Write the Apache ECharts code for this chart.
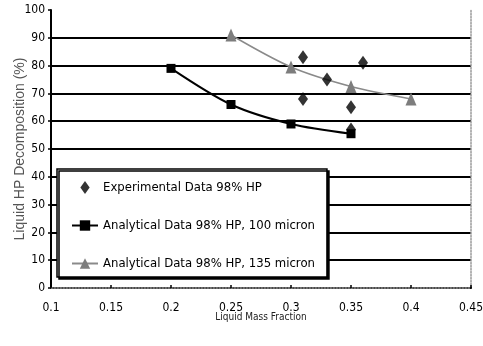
<!DOCTYPE html>
<html>
<head>
<meta charset="utf-8">
<script src="https://cdn.jsdelivr.net/npm/echarts@6/dist/echarts.min.js"></script>
<style>
  html, body { margin: 0; padding: 0; background: #fff; }
  #chart { width: 483px; height: 346px; }
</style>
</head>
<body>
<div id="chart"></div>
<script>
// Liquid HP decomposition vs. liquid mass fraction
const expX = [0.31, 0.31, 0.33, 0.35, 0.35, 0.36];
const expY = [83, 68, 75, 65, 57, 81];

const ana100X = [0.2, 0.25, 0.3, 0.35];
const ana100Y = [79, 66, 59, 55.5];

const ana135X = [0.25, 0.3, 0.35, 0.4];
const ana135Y = [91, 79.5, 72.5, 68];

const seriesNames = [
  'Experimental Data 98% HP',
  'Analytical Data 98% HP, 100 micron',
  'Analytical Data 98% HP, 135 micron'
];

const xTitle = 'Liquid Mass Fraction';
const yTitle = 'Liquid HP Decomposition (%)';

const pairs = (xs, ys) => xs.map((x, i) => [x, ys[i]]);
const FONT = '"DejaVu Sans Condensed", "Liberation Sans", Arial, sans-serif';
const DIAMOND = 'path://M5,0L10,7L5,14L0,7Z';

const chart = echarts.init(document.getElementById('chart'));
chart.setOption({
  animation: false,
  grid: { left: 51, right: 12, top: 10, bottom: 58, outerBoundsMode: 'none', containLabel: false },
  xAxis: [{
    type: 'value', min: 0.1, max: 0.45, interval: 0.05,
    name: xTitle, nameLocation: 'middle', nameGap: 24, nameMoveOverlap: false,
    nameTextStyle: { fontFamily: FONT, fontSize: 10, color: '#222' },
    axisLine: { show: true, onZero: false, lineStyle: { color: '#000', width: 2 } },
    axisTick: { show: true, inside: true, length: 3, lineStyle: { color: '#000', width: 1.5 } },
    axisLabel: { fontFamily: FONT, fontSize: 12, color: '#000', margin: 14,
      formatter: v => String(+v.toFixed(2)) },
    splitLine: { show: false }
  }, {
    type: 'value', position: 'top', min: 0.1, max: 0.45,
    axisLine: { show: true, lineStyle: { color: '#999', width: 1.5, type: 'dotted' } },
    axisTick: { show: false }, axisLabel: { show: false }, splitLine: { show: false }
  }],
  yAxis: [{
    type: 'value', min: 0, max: 100, interval: 10,
    name: yTitle, nameLocation: 'middle', nameGap: 24, nameRotate: 90, nameMoveOverlap: false,
    nameTextStyle: { fontFamily: 'Liberation Sans, Arial, sans-serif', fontSize: 14, color: '#555' },
    axisLine: { show: true, lineStyle: { color: '#000', width: 2 } },
    axisTick: { show: true, length: 3, lineStyle: { color: '#000', width: 1.5 } },
    axisLabel: { fontFamily: FONT, fontSize: 12, color: '#000', margin: 6 },
    splitLine: { show: true, showMaxLine: false, lineStyle: { color: '#000', width: 2 } }
  }, {
    type: 'value', position: 'right', min: 0, max: 100,
    axisLine: { show: true, lineStyle: { color: '#999', width: 1.5, type: 'dotted' } },
    axisTick: { show: false }, axisLabel: { show: false }, splitLine: { show: false }
  }],
  legend: {
    orient: 'vertical', left: 57, top: 169,
    padding: [12, 12, 7, 14],
    itemWidth: 26, itemHeight: 13, itemGap: 25,
    symbolKeepAspect: true,
    backgroundColor: '#fff', borderColor: '#000', borderWidth: 1.5,
    shadowColor: '#000', shadowBlur: 0, shadowOffsetX: 2, shadowOffsetY: 2,
    textStyle: { fontFamily: FONT, fontSize: 13, color: '#000' },
    data: [
      { name: seriesNames[0], icon: DIAMOND },
      seriesNames[1],
      seriesNames[2]
    ]
  },
  series: [{
    name: seriesNames[0], type: 'scatter',
    symbol: 'diamond', symbolSize: [10, 14],
    itemStyle: { color: '#000' },
    data: pairs(expX, expY), z: 4
  }, {
    name: seriesNames[1], type: 'line', smooth: 0.3,
    symbol: 'rect', symbolSize: 9, showAllSymbol: true,
    lineStyle: { color: '#000', width: 2 },
    itemStyle: { color: '#000' },
    data: pairs(ana100X, ana100Y), z: 3
  }, {
    name: seriesNames[2], type: 'line', smooth: 0.3,
    symbol: 'triangle', symbolSize: [11, 13], showAllSymbol: true,
    lineStyle: { color: '#8a8a8a', width: 1.5 },
    itemStyle: { color: '#7d7d7d' },
    data: pairs(ana135X, ana135Y), z: 3
  }]
});
</script>
</body>
</html>
